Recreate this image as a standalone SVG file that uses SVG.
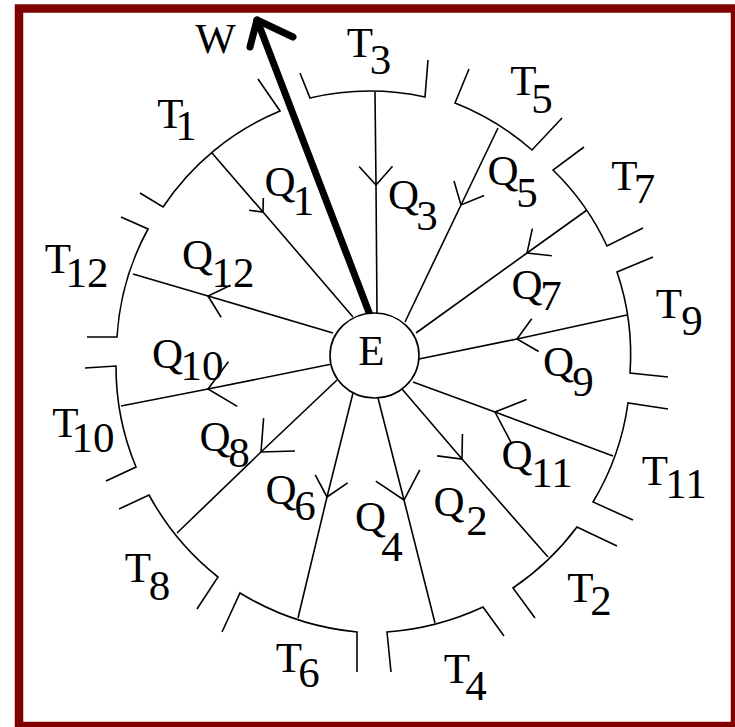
<svg xmlns="http://www.w3.org/2000/svg" width="735" height="727" viewBox="0 0 735 727">
<style>
  .seg { fill: none; stroke: #000; stroke-width: 1.6; stroke-linejoin: miter; }
  .q { fill: none; stroke: #000; stroke-width: 1.6; }
  .qS { marker-mid: url(#arrS); }
  .qM { marker-mid: url(#arrM); }
  .qL { marker-mid: url(#arrL); }
  .lbl { font-family: "Liberation Serif", "Times New Roman", serif; font-size: 43px; fill: #000; text-anchor: middle; }
  .work { fill: none; stroke: #000; stroke-width: 7; stroke-linecap: round; stroke-linejoin: round; }
</style>
<defs>
  <marker id="arrS" markerUnits="userSpaceOnUse" orient="auto" overflow="visible" markerWidth="1" markerHeight="1">
    <path d="M -10.4,-9.4 L 0,0 L -10.4,9.4" fill="none" stroke="#000" stroke-width="1.6"/>
  </marker>
  <marker id="arrM" markerUnits="userSpaceOnUse" orient="auto" overflow="visible" markerWidth="1" markerHeight="1">
    <path d="M -18.6,-16.7 L 0,0 L -18.6,16.7" fill="none" stroke="#000" stroke-width="1.6"/>
  </marker>
  <marker id="arrL" markerUnits="userSpaceOnUse" orient="auto" overflow="visible" markerWidth="1" markerHeight="1">
    <path d="M -25.3,-22.7 L 0,0 L -25.3,22.7" fill="none" stroke="#000" stroke-width="1.6"/>
  </marker>
</defs>
<rect x="0" y="0" width="735" height="727" fill="#fff"/>
<rect id="frame" x="19" y="8.5" width="716" height="717.5" fill="#fff" stroke="#800000" stroke-width="8.5"/>

<g id="connectors">
  <path class="q qS" d="M 212,153 L 263,212 L 353,317"/>
  <path class="q qM" d="M 375,92 L 376,185 L 377,313"/>
  <path class="q qM" d="M 498,128 L 461,205 L 405,322"/>
  <path class="q qM" d="M 587,210 L 527,253 L 416,333"/>
  <path class="q qM" d="M 627,315 L 517,339 L 419,359"/>
  <path class="q qL" d="M 613,456 L 495,412 L 413,382"/>
  <path class="q qM" d="M 402,389 L 462,459 L 548,557"/>
  <path class="q qL" d="M 378,398 L 404,500 L 435,623"/>
  <path class="q qM" d="M 353,393 L 327,497 L 298,618"/>
  <path class="q qL" d="M 337,380 L 261,452 L 177,533"/>
  <path class="q qL" d="M 332,364 L 208,389 L 121,406"/>
  <path class="q qM" d="M 333,333 L 208,296 L 133,274"/>
  <g id="work-W">
    <path class="work" d="M 370,315 L 257,20"/>
    <path class="work" d="M 250,47 L 257,20 L 293,37"/>
    <text class="lbl" x="215.5" y="53">W</text>
  </g>
  <text class="lbl"><tspan x="280" y="196">Q</tspan><tspan x="303.5" y="215">1</tspan></text>
  <text class="lbl"><tspan x="403.5" y="209">Q</tspan><tspan x="427" y="230">3</tspan></text>
  <text class="lbl"><tspan x="503" y="185">Q</tspan><tspan x="527" y="207">5</tspan></text>
  <text class="lbl"><tspan x="527" y="299">Q</tspan><tspan x="551" y="310">7</tspan></text>
  <text class="lbl"><tspan x="558.5" y="376">Q</tspan><tspan x="583" y="396">9</tspan></text>
  <text class="lbl"><tspan x="517" y="469">Q</tspan><tspan x="552" y="487">11</tspan></text>
  <text class="lbl"><tspan x="449" y="516">Q</tspan><tspan x="477" y="535">2</tspan></text>
  <text class="lbl"><tspan x="370.5" y="531">Q</tspan><tspan x="392" y="561">4</tspan></text>
  <text class="lbl"><tspan x="281" y="504">Q</tspan><tspan x="305" y="520">6</tspan></text>
  <text class="lbl"><tspan x="215" y="451">Q</tspan><tspan x="239" y="467">8</tspan></text>
  <text class="lbl"><tspan x="167.5" y="368">Q</tspan><tspan x="202" y="380">10</tspan></text>
  <text class="lbl"><tspan x="197.5" y="269">Q</tspan><tspan x="233" y="287">12</tspan></text>
</g>

<g id="node-E">
  <ellipse cx="374.5" cy="355.5" rx="44.5" ry="42.5" fill="#fff" stroke="#000" stroke-width="1.6"/>
  <text class="lbl" x="371.5" y="365">E</text>
</g>

<g id="node-T1">
  <path class="seg" d="M 140,193 L 163,207 A 260 260 0 0 1 280,111 L 258,79"/>
  <text class="lbl"><tspan x="170.5" y="128">T</tspan><tspan x="186" y="140">1</tspan></text>
</g>
<g id="node-T3">
  <path class="seg" d="M 300,73 L 310,98 A 264 264 0 0 1 425,97 L 428,60"/>
  <text class="lbl"><tspan x="360" y="57">T</tspan><tspan x="380.5" y="74">3</tspan></text>
</g>
<g id="node-T5">
  <path class="seg" d="M 469,69 L 455,103 A 261 261 0 0 1 532,150 L 562,118"/>
  <text class="lbl"><tspan x="523.5" y="95">T</tspan><tspan x="542" y="113">5</tspan></text>
</g>
<g id="node-T7">
  <path class="seg" d="M 584,147 L 553,170 A 257 257 0 0 1 607,246 L 643,228"/>
  <text class="lbl"><tspan x="624.5" y="190">T</tspan><tspan x="644.5" y="203">7</tspan></text>
</g>
<g id="node-T9">
  <path class="seg" d="M 653,257 L 617,272 A 256 256 0 0 1 630,373 L 668,377"/>
  <text class="lbl"><tspan x="669" y="318">T</tspan><tspan x="692" y="335">9</tspan></text>
</g>
<g id="node-T11">
  <path class="seg" d="M 668,409 L 628,403 A 260 260 0 0 1 593,502 L 633,520"/>
  <text class="lbl"><tspan x="655" y="485">T</tspan><tspan x="686" y="498">11</tspan></text>
</g>
<g id="node-T2">
  <path class="seg" d="M 617,546 L 577,527 A 268 268 0 0 1 513,588 L 535,618"/>
  <text class="lbl"><tspan x="580.5" y="602">T</tspan><tspan x="601" y="615">2</tspan></text>
</g>
<g id="node-T4">
  <path class="seg" d="M 504,636 L 483,607 A 275 275 0 0 1 387,632 L 391,672"/>
  <text class="lbl"><tspan x="457" y="683">T</tspan><tspan x="476" y="700">4</tspan></text>
</g>
<g id="node-T6">
  <path class="seg" d="M 357,672 L 357,632 A 275 275 0 0 1 240,593 L 222,632"/>
  <text class="lbl"><tspan x="289" y="672">T</tspan><tspan x="309" y="687">6</tspan></text>
</g>
<g id="node-T8">
  <path class="seg" d="M 197,609 L 218,577 A 268 268 0 0 1 149,495 L 119,509"/>
  <text class="lbl"><tspan x="138" y="582">T</tspan><tspan x="159.5" y="600">8</tspan></text>
</g>
<g id="node-T10">
  <path class="seg" d="M 106,481 L 136,467 A 261 261 0 0 1 116,366 L 85,368"/>
  <text class="lbl"><tspan x="65.5" y="437">T</tspan><tspan x="93" y="452">10</tspan></text>
</g>
<g id="node-T12">
  <path class="seg" d="M 87,337 L 117,337 A 259 259 0 0 1 148,229 L 121,217"/>
  <text class="lbl"><tspan x="58" y="273">T</tspan><tspan x="87" y="287">12</tspan></text>
</g>
</svg>
